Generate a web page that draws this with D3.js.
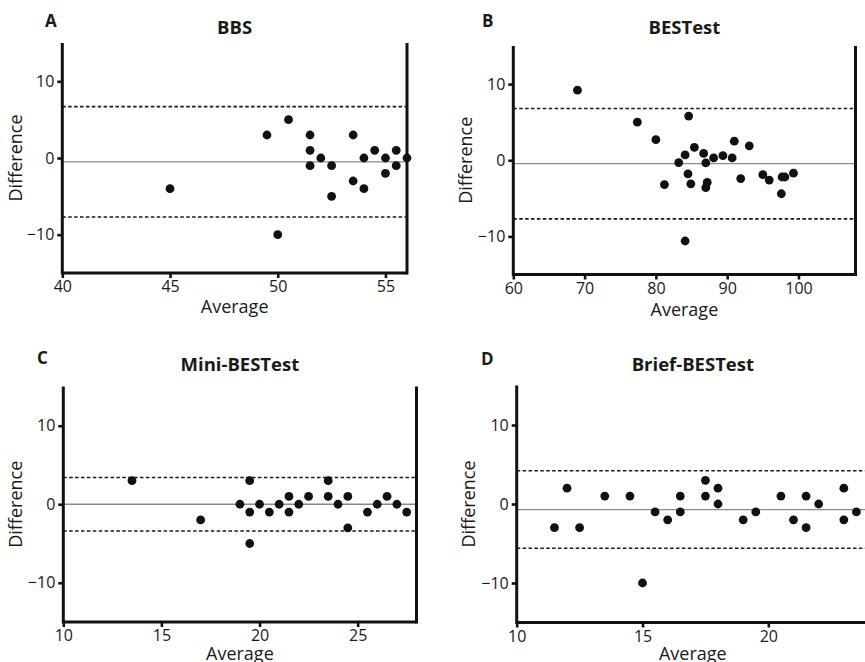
<!DOCTYPE html>
<html><head><meta charset="utf-8">
<script src="https://cdn.jsdelivr.net/npm/d3@7"></script>
<style>
body{margin:0;background:#fff;}
svg text{font-family:"Open Sans",sans-serif;fill:#1a1a1a;}
</style></head><body>
<svg id="chart" width="865" height="662"></svg>
<script>
// ---- data ----
const titles = ["BBS", "BESTest", "Mini-BESTest", "Brief-BESTest"];
const letters = ["A", "B", "C", "D"];

const bbsAvg  = [45, 49.5, 50.5, 50, 51.5, 51.5, 51.5, 52, 52.5, 52.5, 53.5, 53.5, 54, 54, 54.5, 55, 55, 55.5, 55.5, 56];
const bbsDiff = [-4, 3, 5, -10, 3, 1, -1, 0, -1, -5, 3, -3, 0, -4, 1, 0, -2, 1, -1, 0];

const bestAvg  = [69.0, 77.4, 80.0, 81.2, 83.2, 84.1, 84.6, 84.5, 84.9, 84.1, 85.4, 86.7, 87.0, 87.2, 87.0, 88.1, 89.4, 90.7, 91.0, 91.9, 93.1, 95.0, 95.9, 97.7, 98.1, 97.6, 99.3];
const bestDiff = [9.2, 5.0, 2.7, -3.2, -0.3, 0.7, 5.8, -1.8, -3.1, -10.6, 1.7, 0.9, -0.35, -2.9, -3.6, 0.3, 0.6, 0.3, 2.5, -2.4, 1.9, -1.9, -2.6, -2.2, -2.2, -4.4, -1.7];

const miniAvg  = [13.5, 17, 19, 19.5, 19.5, 19.5, 20, 20.5, 21, 21.5, 21.5, 22, 22.5, 23.5, 23.5, 24, 24.5, 24.5, 25.5, 26, 26.5, 27, 27.5];
const miniDiff = [3, -2, 0, 3, -1, -5, 0, -1, 0, 1, -1, 0, 1, 3, 1, 0, 1, -3, -1, 0, 1, 0, -1];

const briefAvg  = [11.5, 12, 12.5, 13.5, 14.5, 15, 15.5, 16, 16.5, 16.5, 17.5, 17.5, 18, 18, 19, 19.5, 20.5, 21, 21.5, 21.5, 22, 23, 23, 23.5];
const briefDiff = [-3, 2, -3, 1, 1, -10, -1, -2, 1, -1, 3, 1, 2, 0, -2, -1, 1, -2, 1, -3, 0, 2, -2, -1];

const meanDiff = [-0.5, -0.45, 0, -0.7];
const upperLoA = [6.7, 6.8, 3.4, 4.2];
const lowerLoA = [-7.7, -7.7, -3.4, -5.6];

const xDomains = [[40, 56], [60, 108], [10, 28], [10, 24]];
const xTickVals = [[40, 45, 50, 55], [60, 70, 80, 90, 100], [10, 15, 20, 25], [10, 15, 20]];
const yTickVals = [-10, 0, 10];
const yDomain = [-15, 15];
const xLabel = "Average";
const yLabel = "Difference";

// ---- layout (pixels) ----
const layout = [
  {l: 62.3,  r: 407,   t: 43,    b: 273,   letterX: 45,  letterY: 27,  titleY: 34,  xlabY: 313, ylabX: 22},
  {l: 513.3, r: 855.5, t: 46,    b: 274.5, letterX: 482, letterY: 27,  titleY: 34,  xlabY: 316, ylabX: 472},
  {l: 63.3,  r: 416.5, t: 386.5, b: 622,   letterX: 37,  letterY: 364, titleY: 371, xlabY: 660, ylabX: 22},
  {l: 516.7, r: 869,   t: 385.5, b: 622.5, letterX: 481, letterY: 365, titleY: 371, xlabY: 660, ylabX: 475}
];

const series = [[bbsAvg, bbsDiff], [bestAvg, bestDiff], [miniAvg, miniDiff], [briefAvg, briefDiff]];
const svg = d3.select("#chart");
const fmt = d => d < 0 ? "\u2212" + Math.abs(d) : String(d);

layout.forEach((L, i) => {
  const x = d3.scaleLinear().domain(xDomains[i]).range([L.l, L.r]);
  const y = d3.scaleLinear().domain(yDomain).range([L.b, L.t]);
  const g = svg.append("g");

  // reference lines
  g.append("line").attr("x1", L.l).attr("x2", Math.min(L.r, 865)).attr("y1", y(meanDiff[i])).attr("y2", y(meanDiff[i]))
    .attr("stroke", "#8a8a8a").attr("stroke-width", 1.3);
  [upperLoA[i], lowerLoA[i]].forEach(v => {
    g.append("line").attr("x1", L.l).attr("x2", Math.min(L.r, 865)).attr("y1", y(v)).attr("y2", y(v))
      .attr("stroke", "#1a1a1a").attr("stroke-width", 1.6).attr("stroke-dasharray", "3.5,2.4");
  });

  // axes
  const ax = g.append("g").attr("transform", `translate(0,${L.b})`)
    .call(d3.axisBottom(x).tickValues(xTickVals[i]).tickSize(5).tickSizeOuter(0).tickPadding(3).tickFormat(fmt));
  const ay = g.append("g").attr("transform", `translate(${L.l},0)`)
    .call(d3.axisLeft(y).tickValues(yTickVals).tickSize(5).tickSizeOuter(0).tickPadding(3).tickFormat(fmt));
  [ax, ay].forEach(a => {
    a.select(".domain").attr("stroke", "#111").attr("stroke-width", 3);
    a.selectAll(".tick line").attr("stroke", "#111").attr("stroke-width", 2.6);
    a.selectAll(".tick text").attr("font-size", 16).attr("font-family", "Open Sans").attr("fill", "#1a1a1a");
  });
  ay.select(".domain").attr("d", `M0,${L.b + 1.5}V${L.t}`);
  ax.select(".domain").attr("d", `M${L.l},0H${L.r}`);
  // right frame line
  g.append("line").attr("x1", L.r).attr("x2", L.r).attr("y1", L.t).attr("y2", L.b + 1.5)
    .attr("stroke", "#111").attr("stroke-width", 3);

  // points
  const [xs, ys] = series[i];
  g.selectAll("circle").data(xs.map((v, k) => [v, ys[k]])).join("circle")
    .attr("cx", d => x(d[0])).attr("cy", d => y(d[1])).attr("r", 4.4).attr("fill", "#111");

  // texts
  g.append("text").attr("x", L.letterX).attr("y", L.letterY).attr("font-size", 17).attr("font-weight", 700).text(letters[i]);
  g.append("text").attr("x", (L.l + L.r) / 2).attr("y", L.titleY).attr("text-anchor", "middle")
    .attr("font-size", 18.5).attr("font-weight", 700).text(titles[i]);
  g.append("text").attr("x", (L.l + L.r) / 2).attr("y", L.xlabY).attr("text-anchor", "middle")
    .attr("font-size", 18).text(xLabel);
  g.append("text").attr("transform", `translate(${L.ylabX},${(L.t + L.b) / 2}) rotate(-90)`)
    .attr("text-anchor", "middle").attr("font-size", 18).text(yLabel);
});
</script>
</body></html>
